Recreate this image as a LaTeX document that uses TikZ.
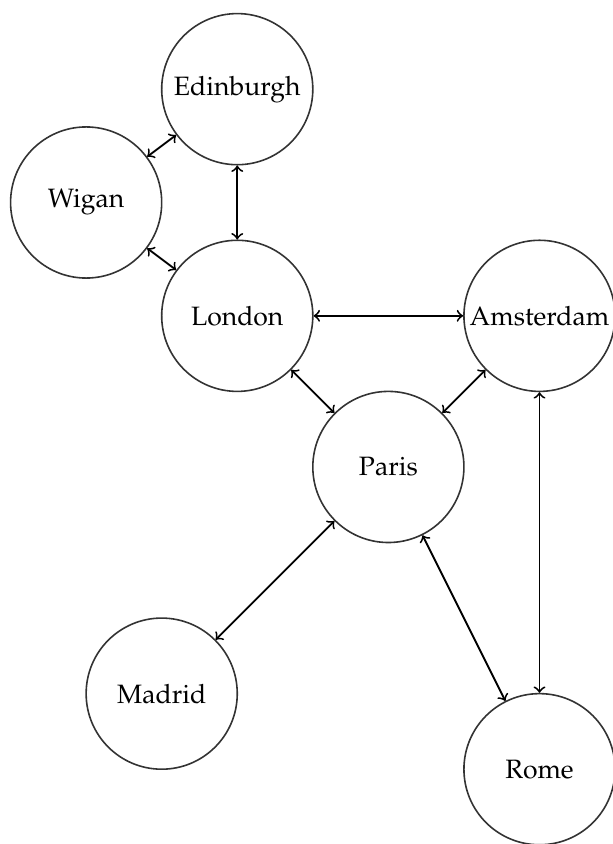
\documentclass[tikz,border=0pt]{standalone}
\usepackage[T1]{fontenc}
\usepackage{mathpazo}
\begin{document}
\begin{tikzpicture}[
  city/.style={circle, draw=black!80, line width=0.6pt, minimum size=2cm, inner sep=0pt},
  link/.style={<->, line width=0.7pt}
]
\useasboundingbox (-3.14,-6.99) rectangle (4.97,4.18);
\node[city] (london) at (0,0) {London};
\node[city] (edinburgh) at (0,3) {Edinburgh};
\node[city] (wigan) at (-2,1.5) {Wigan};
\node[city] (amsterdam) at (4,0) {Amsterdam};
\node[city] (paris) at (2,-2) {Paris};
\node[city] (madrid) at (-1,-5) {Madrid};
\node[city] (rome) at (4,-6) {Rome};
\draw[link] (wigan) -- (edinburgh);
\draw[link] (wigan) -- (london);
\draw[link] (edinburgh) -- (london);
\draw[link] (london) -- (amsterdam);
\draw[link] (london) -- (paris);
\draw[link] (amsterdam) -- (paris);
\draw[link] (amsterdam) -- (rome);
\draw[link] (paris) -- (madrid);
\draw[link] (paris) -- (rome);
\end{tikzpicture}
\end{document}
